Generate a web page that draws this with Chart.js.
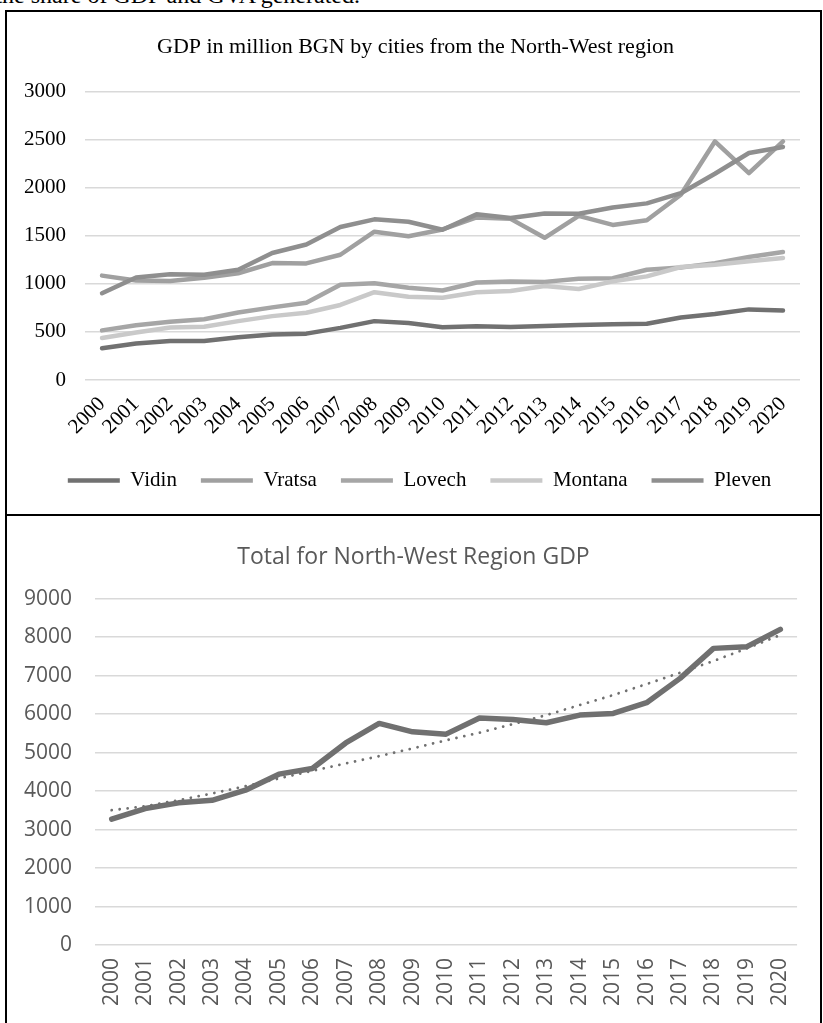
<!DOCTYPE html>
<html lang="en">
<head>
<meta charset="utf-8">
<title>GDP in million BGN - North-West region</title>
<script src="https://cdn.jsdelivr.net/npm/chart.js@4.4.1/dist/chart.umd.min.js"></script>
<style>
    html, body { margin: 0; padding: 0; background: #fff; }
    body { position: relative; width: 823px; height: 1023px; overflow: hidden; }
    .page-text {
        position: absolute; right: 463px; top: -17px;
        font: 24px/24px "Liberation Serif", "Times New Roman", serif;
        color: #000; white-space: nowrap; text-align: right;
    }
    .frame {
        position: absolute; left: 5px; top: 10px; width: 813px; height: 1030px;
        border: 2px solid #000; z-index: 2; pointer-events: none;
    }
    .divider {
        position: absolute; left: 5px; top: 514px; width: 817px; height: 2px;
        background: #000; z-index: 2;
    }
    .chart-box { position: absolute; left: 7px; }
    #top-box { top: 11px; }
    #bottom-box { top: 516px; }
</style>
</head>
<body>
<div class="page-text">and the share of GDP and GVA generated.</div>
<div class="frame"></div>
<div class="divider"></div>
<div class="chart-box" id="bottom-box"><canvas id="totalChart" width="812" height="506"></canvas></div>
<div class="chart-box" id="top-box"><canvas id="citiesChart" width="812" height="520"></canvas></div>

<script>
// Categories
const years = ['2000', '2001', '2002', '2003', '2004', '2005', '2006', '2007', '2008', '2009', '2010',
               '2011', '2012', '2013', '2014', '2015', '2016', '2017', '2018', '2019', '2020'];

// GDP in million BGN, by city
const vidin   = [330, 380, 405, 405, 445, 472, 482, 542, 612, 592, 548, 560, 550, 562, 572, 580, 584, 650, 685, 734, 722];
const vratsa  = [1085, 1035, 1030, 1062, 1110, 1215, 1212, 1302, 1542, 1495, 1565, 1690, 1675, 1478, 1706, 1612, 1661, 1925, 2480, 2150, 2480];
const lovech  = [516, 570, 605, 632, 702, 755, 802, 990, 1006, 958, 930, 1014, 1024, 1020, 1052, 1058, 1146, 1170, 1215, 1278, 1330];
const montana = [437, 493, 546, 553, 612, 664, 699, 780, 913, 866, 856, 912, 925, 978, 946, 1025, 1077, 1175, 1198, 1234, 1268];
const pleven  = [902, 1066, 1100, 1094, 1145, 1320, 1408, 1590, 1670, 1645, 1562, 1722, 1684, 1730, 1728, 1794, 1836, 1942, 2144, 2360, 2422];

// Total for the region and the trend line
const regionTotal = [3270, 3546, 3694, 3760, 4023, 4440, 4587, 5250, 5758, 5540, 5480, 5900, 5860, 5775, 5975, 6018, 6296, 6929, 7709, 7753, 8204];
const regionTrend = [3503, 3607, 3763, 3937, 4127, 4327, 4526, 4717, 4908, 5108, 5320, 5515, 5741, 5975, 6235, 6495, 6781, 7076, 7380, 7709, 8056];

// Tick labels
const cityTicks  = [0, 500, 1000, 1500, 2000, 2500, 3000];
const totalTicks = [0, 1000, 2000, 3000, 4000, 5000, 6000, 7000, 8000, 9000];

(function() {
    'use strict';

    const SERIF = '"Liberation Serif", "Times New Roman", serif';
    const SANS = '"Open Sans", "Noto Sans", sans-serif';
    const GRID = '#d9d9d9';

    Chart.defaults.animation = false;
    Chart.defaults.responsive = false;
    Chart.defaults.devicePixelRatio = 1;

    /**
     * Excel centres title and legend on the whole chart box, Chart.js on the
     * area right of the layout padding - nudge them sideways after layout
     */
    const shiftBoxes = {
        id: 'shiftBoxes',
        afterLayout: function(chart, args, opts) {
            const moves = [[chart.titleBlock, opts.title || 0], [chart.legend, opts.legend || 0]];
            moves.forEach(function(m) {
                if (m[0] && m[1]) {
                    m[0].left += m[1];
                    m[0].right += m[1];
                }
            });
        }
    };

    /**
     * Build a plain Excel-like line series
     */
    function series(label, data, color, order) {
        return {
            label: label,
            data: data,
            borderColor: color,
            backgroundColor: color,
            borderWidth: 4.5,
            borderCapStyle: 'round',
            borderJoinStyle: 'round',
            pointRadius: 0,
            pointHoverRadius: 0,
            pointStyle: 'line',
            tension: 0,
            fill: false,
            order: order
        };
    }

    function fixedTicks(values) {
        return function(scale) {
            scale.ticks = values.map(function(v) { return { value: v }; });
        };
    }

    // no thousands separator, like the original
    function plainNumber(value) {
        return String(value);
    }

    // Upper chart: GDP by city
    new Chart(document.getElementById('citiesChart'), {
        type: 'line',
        data: {
            labels: years,
            datasets: [
                series('Vidin', vidin, '#717171', 4),
                series('Vratsa', vratsa, '#a0a0a0', 3),
                series('Lovech', lovech, '#a6a6a6', 2),
                series('Montana', montana, '#c9c9c9', 1),
                series('Pleven', pleven, '#8f8f8f', 0)
            ]
        },
        plugins: [shiftBoxes],
        options: {
            layout: { padding: { left: 0, right: 19, top: 0, bottom: 30 } },
            plugins: {
                shiftBoxes: { title: 12, legend: 16 },
                title: {
                    display: true,
                    text: 'GDP in million BGN by cities from the North-West region',
                    color: '#000',
                    font: { family: SERIF, size: 22, weight: 'normal' },
                    padding: { top: 23, bottom: 31 }
                },
                legend: {
                    position: 'bottom',
                    labels: {
                        color: '#000',
                        font: { family: SERIF, size: 21 },
                        usePointStyle: true,
                        pointStyleWidth: 52,
                        padding: 24,
                        sort: function(a, b) { return a.datasetIndex - b.datasetIndex; }
                    }
                },
                tooltip: { enabled: false }
            },
            scales: {
                x: {
                    offset: true,
                    grid: { display: false, drawTicks: false },
                    border: { display: false },
                    ticks: {
                        color: '#000',
                        font: { family: SERIF, size: 21 },
                        minRotation: 45,
                        maxRotation: 45,
                        autoSkip: false,
                        padding: 12
                    },
                    afterFit: function(scale) { scale.height = 66; }
                },
                y: {
                    min: 0,
                    max: 3000,
                    grid: { color: GRID, lineWidth: 1.6, drawTicks: false },
                    border: { display: false },
                    ticks: {
                        color: '#000',
                        font: { family: SERIF, size: 21 },
                        padding: 19,
                        callback: plainNumber
                    },
                    afterBuildTicks: fixedTicks(cityTicks),
                    afterFit: function(scale) { scale.width = 78; }
                }
            }
        }
    });

    // Lower chart: regional total with trend line
    new Chart(document.getElementById('totalChart'), {
        type: 'line',
        data: {
            labels: years,
            datasets: [
                {
                    label: 'Trend',
                    data: regionTrend,
                    borderColor: '#707070',
                    borderWidth: 2.8,
                    borderDash: [0.01, 8],
                    borderCapStyle: 'round',
                    pointRadius: 0,
                    tension: 0,
                    fill: false,
                    order: 0
                },
                {
                    label: 'Total',
                    data: regionTotal,
                    borderColor: '#707070',
                    borderWidth: 5.5,
                    borderCapStyle: 'round',
                    borderJoinStyle: 'round',
                    pointRadius: 0,
                    tension: 0,
                    fill: false,
                    order: 1
                }
            ]
        },
        plugins: [shiftBoxes],
        options: {
            layout: { padding: { left: 0, right: 19, top: 0, bottom: 0 } },
            plugins: {
                shiftBoxes: { title: 10 },
                title: {
                    display: true,
                    text: 'Total for North-West Region GDP',
                    color: '#595959',
                    font: { family: SANS, size: 23, weight: 'normal' },
                    padding: { top: 27.2, bottom: 27.9 }
                },
                legend: { display: false },
                tooltip: { enabled: false }
            },
            scales: {
                x: {
                    offset: true,
                    grid: { display: false, drawTicks: false },
                    border: { display: false },
                    ticks: {
                        color: '#595959',
                        font: { family: SANS, size: 21 },
                        minRotation: 90,
                        maxRotation: 90,
                        autoSkip: false,
                        padding: 13
                    },
                    afterFit: function(scale) { scale.height = 77; }
                },
                y: {
                    min: 0,
                    max: 9000,
                    grid: { color: GRID, lineWidth: 1.6, drawTicks: false },
                    border: { display: false },
                    ticks: {
                        color: '#595959',
                        font: { family: SANS, size: 21 },
                        padding: 23,
                        callback: plainNumber
                    },
                    afterBuildTicks: fixedTicks(totalTicks),
                    afterFit: function(scale) { scale.width = 88; }
                }
            }
        }
    });
})();
</script>
</body>
</html>
